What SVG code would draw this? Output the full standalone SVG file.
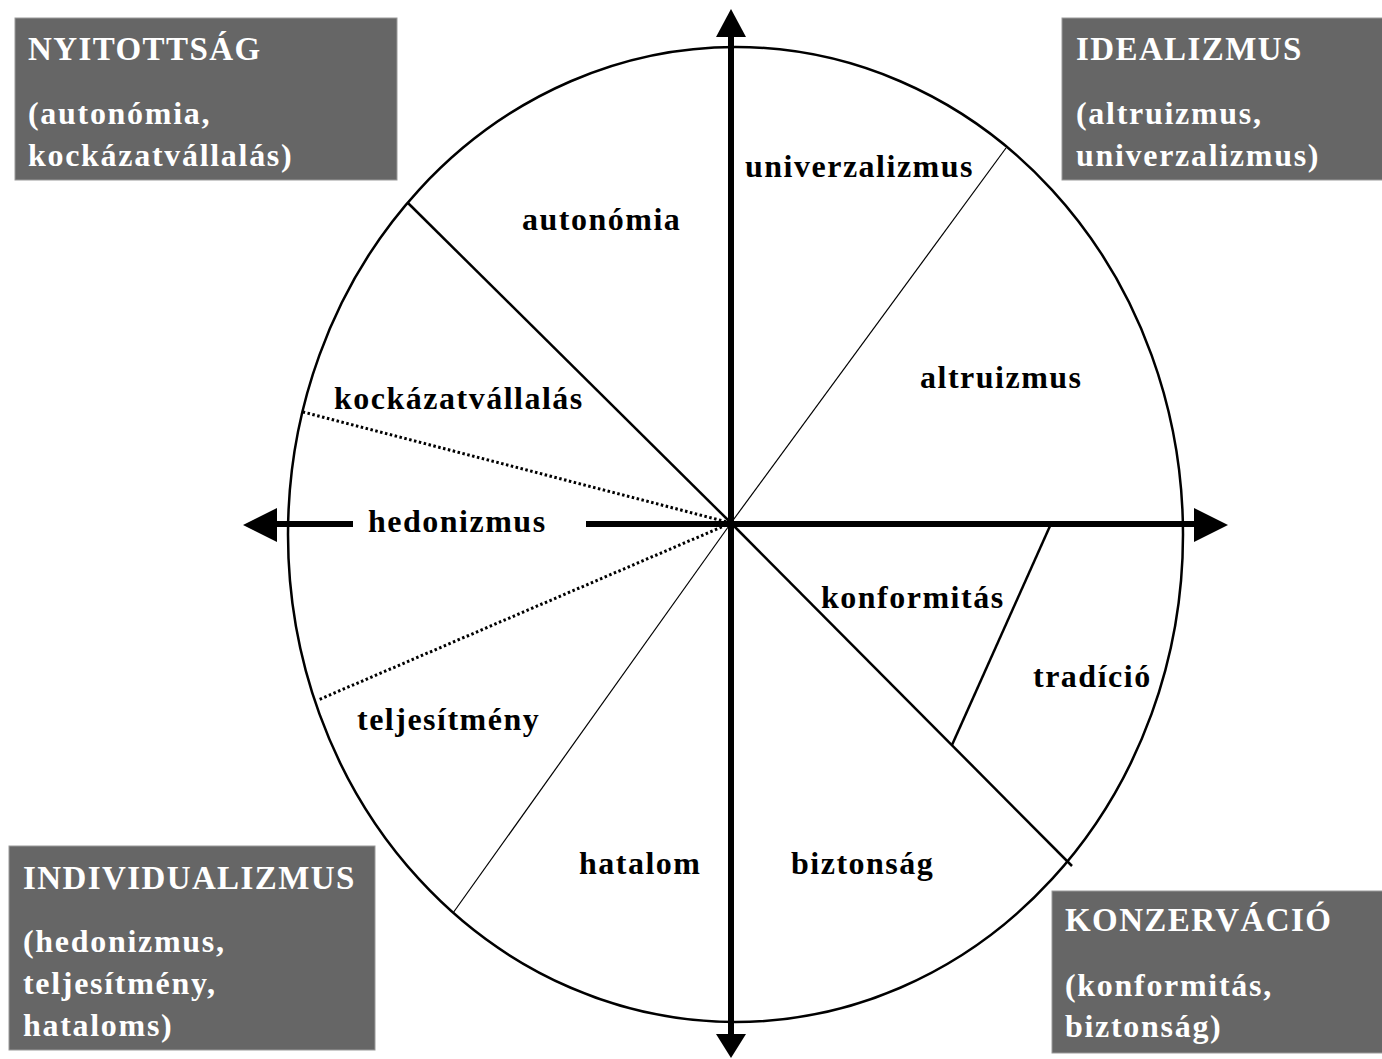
<svg xmlns="http://www.w3.org/2000/svg" width="1382" height="1059" viewBox="0 0 1382 1059">
<style>
.box{fill:#666666;stroke:#9a9a9a;stroke-width:1}
.bt{font-family:"Liberation Serif","Times New Roman",serif;font-weight:bold;fill:#ffffff}
.ti{font-size:33px;letter-spacing:1.4px}
.su{font-size:32px;letter-spacing:1.7px}
.lb{font-family:"Liberation Serif","Times New Roman",serif;font-weight:bold;font-size:32px;letter-spacing:1.5px;fill:#000}
.ax{stroke:#000;stroke-width:6;fill:none}
.sd{stroke:#000;stroke-width:2.5;fill:none}
.th{stroke:#000;stroke-width:1.2;fill:none}
.dt{stroke:#000;stroke-width:3;stroke-dasharray:2.5 2.5;fill:none}
</style>
<rect width="1382" height="1059" fill="#fff"/>
<g id="circle">
<ellipse cx="735.5" cy="534.5" rx="447.5" ry="487.5" fill="none" stroke="#000" stroke-width="2.5"/>
</g>
<g id="connectors">
<line class="sd" x1="731" y1="523" x2="408" y2="203"/>
<line class="th" x1="731" y1="523" x2="1006" y2="148"/>
<line class="th" x1="731" y1="523" x2="453" y2="913"/>
<line class="sd" x1="731" y1="523" x2="1072" y2="866"/>
<line class="sd" x1="1050" y1="526" x2="952" y2="745"/>
<line class="dt" x1="731" y1="523" x2="303" y2="412"/>
<line class="dt" x1="731" y1="523" x2="318" y2="700"/>
<line class="ax" x1="731" y1="34" x2="731" y2="1037"/>
<line class="ax" x1="275" y1="524" x2="353" y2="524"/>
<line class="ax" x1="586" y1="524" x2="1196" y2="524"/>
<polygon points="731,9 716,37 746,37" fill="#000"/>
<polygon points="731,1058 716,1034 746,1034" fill="#000"/>
<polygon points="243,525 277,508 277,542" fill="#000"/>
<polygon points="1228,525 1194,508 1194,542" fill="#000"/>
</g>
<g id="labels">
<text class="lb" x="745" y="177">univerzalizmus</text>
<text class="lb" x="522" y="230">autonómia</text>
<text class="lb" x="920" y="388">altruizmus</text>
<text class="lb" x="334" y="409">kockázatvállalás</text>
<text class="lb" x="368" y="532">hedonizmus</text>
<text class="lb" x="821" y="608">konformitás</text>
<text class="lb" x="1033" y="687">tradíció</text>
<text class="lb" x="357" y="730">teljesítmény</text>
<text class="lb" x="579" y="874">hatalom</text>
<text class="lb" x="791" y="874">biztonság</text>
</g>
<g id="box-nyitottsag">
<rect class="box" x="15" y="18" width="382" height="162"/>
<text class="bt ti" x="28" y="60">NYITOTTSÁG</text>
<text class="bt su" x="28" y="124">(autonómia,</text>
<text class="bt su" x="28" y="166">kockázatvállalás)</text>
</g>
<g id="box-idealizmus">
<rect class="box" x="1062" y="18" width="325" height="162"/>
<text class="bt ti" x="1076" y="60">IDEALIZMUS</text>
<text class="bt su" x="1076" y="124">(altruizmus,</text>
<text class="bt su" x="1076" y="166">univerzalizmus)</text>
</g>
<g id="box-individualizmus">
<rect class="box" x="9" y="846" width="366" height="204"/>
<text class="bt ti" x="23" y="889">INDIVIDUALIZMUS</text>
<text class="bt su" x="23" y="952">(hedonizmus,</text>
<text class="bt su" x="23" y="994">teljesítmény,</text>
<text class="bt su" x="23" y="1036">hataloms)</text>
</g>
<g id="box-konzervacio">
<rect class="box" x="1052" y="891" width="335" height="162"/>
<text class="bt ti" x="1065" y="931">KONZERVÁCIÓ</text>
<text class="bt su" x="1065" y="996">(konformitás,</text>
<text class="bt su" x="1065" y="1037">biztonság)</text>
</g>
</svg>
